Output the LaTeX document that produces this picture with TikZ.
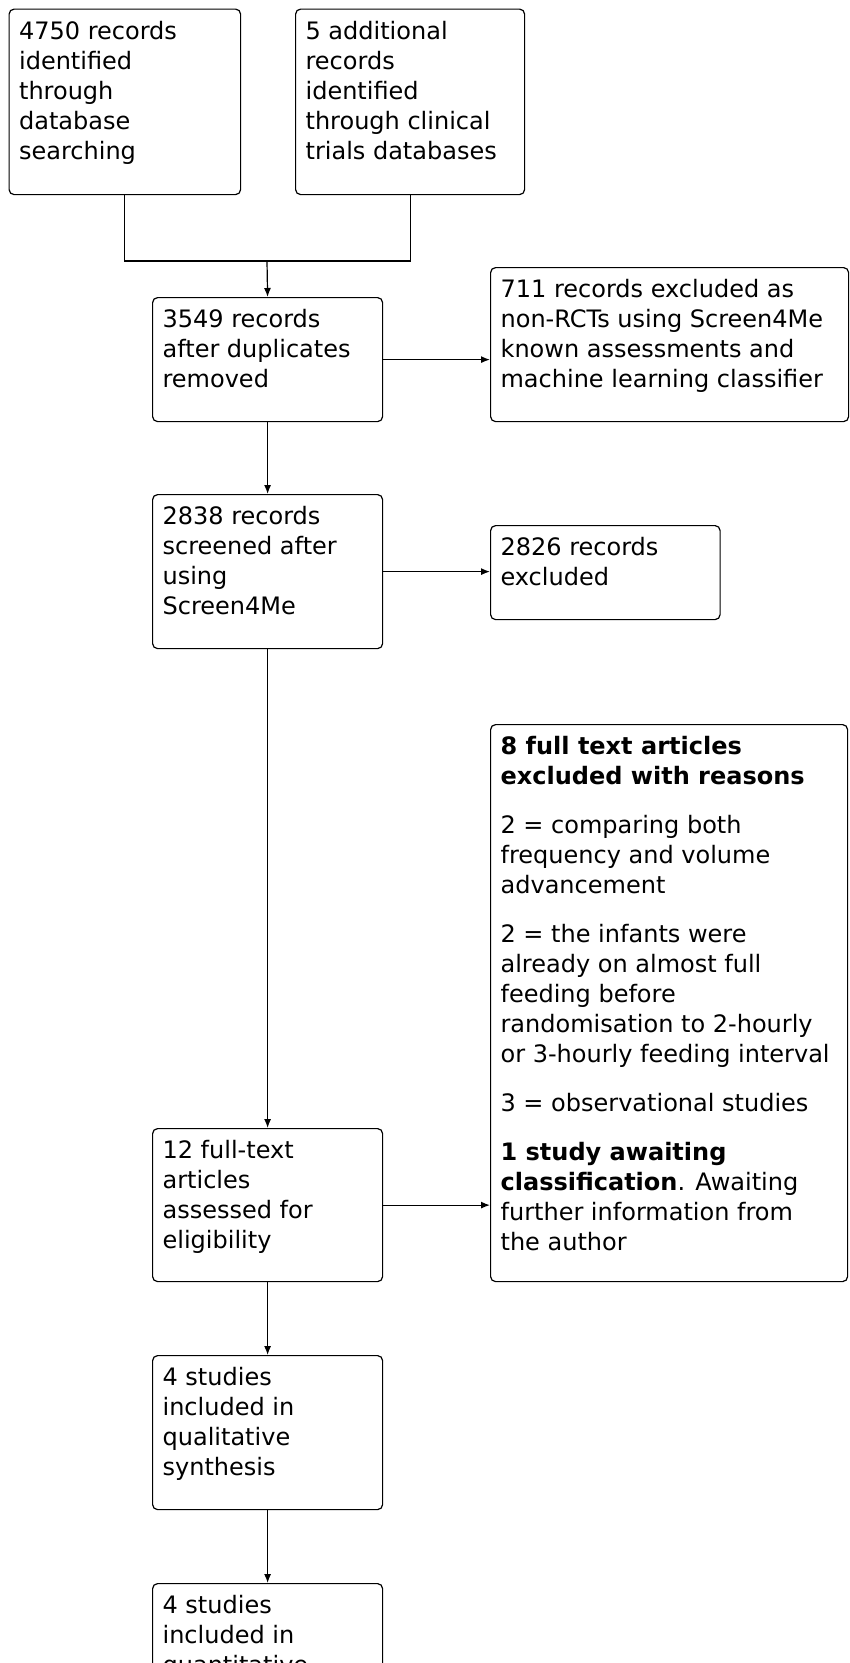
\documentclass[tikz,border=0pt]{standalone}
\usepackage{fontspec}
\setmainfont{DejaVu Sans}
\usetikzlibrary{arrows.meta}
% top aligned text inside a box of fixed size
\newcommand{\boxtxt}[3]{\parbox[c][#2][t]{#1}{\raggedright\vspace*{12pt}#3}}
\newcommand{\reasongap}{\par\vspace{18.8pt}}

\begin{document}
\begin{tikzpicture}[x=1pt, y=-1pt,
  every node/.style={font=\fontsize{24pt}{30pt}\selectfont},
  stage/.style={draw, rounded corners=5pt, anchor=north west, inner xsep=10pt, inner ysep=0pt, line width=1.2pt},
  link/.style={line width=1.2pt},
  flow/.style={line width=1.2pt, -{Latex[length=9pt,width=7pt]}}]
\useasboundingbox (0,0) rectangle (850,1663);
\clip (0,0) rectangle (850,1663);

\node[stage] (ident) at (8.5,8.5) {\boxtxt{211.5pt}{185.5pt}{4750 records\\identified\\through\\database\\searching}};
\node[stage] (extra) at (295,8.5) {\boxtxt{209pt}{185.5pt}{5 additional\\records\\identified\\through clinical\\trials databases}};
\node[stage] (dedup) at (152,297) {\boxtxt{210pt}{124pt}{3549 records\\after duplicates\\removed}};
\node[stage] (nonrct) at (490,267) {\boxtxt{338pt}{154pt}{711 records excluded as\\non-RCTs using Screen4Me\\known assessments and\\machine learning classifier}};
\node[stage] (screen) at (152,494) {\boxtxt{210pt}{154pt}{2838 records\\screened after\\using\\Screen4Me}};
\node[stage] (excl) at (490,525) {\boxtxt{209.5pt}{94pt}{2826 records\\excluded}};
\node[stage] (reasons) at (490,724) {\boxtxt{337pt}{557pt}{\textbf{8 full text articles}\\\textbf{excluded with reasons}\reasongap
2 = comparing both\\frequency and volume\\advancement\reasongap
2 = the infants were\\already on almost full\\feeding before\\randomisation to 2-hourly\\or 3-hourly feeding interval\reasongap
3 = observational studies\reasongap
\textbf{1 study awaiting}\\\textbf{classification}. Awaiting\\further information from\\the author}};
\node[stage] (fulltext) at (152,1128) {\boxtxt{210pt}{153pt}{12 full-text\\articles\\assessed for\\eligibility}};
\node[stage] (qual) at (152,1355) {\boxtxt{210pt}{154pt}{4 studies\\included in\\qualitative\\synthesis}};
\node[stage] (quant) at (152,1583) {\boxtxt{210pt}{154pt}{4 studies\\included in\\quantitative}};

\coordinate (merge) at (267,261);
\draw[link] (ident.south) |- (merge) -| (extra.south);
\draw[flow] (merge) -- (dedup.north);
\draw[flow] (dedup.east) -- (dedup.east -| nonrct.west);
\draw[flow] (dedup.south) -- (screen.north);
\draw[flow] (screen.east) -- (screen.east -| excl.west);
\draw[flow] (screen.south) -- (fulltext.north);
\draw[flow] (fulltext.east) -- (fulltext.east -| reasons.west);
\draw[flow] (fulltext.south) -- (qual.north);
\draw[flow] (qual.south) -- (quant.north);
\end{tikzpicture}
\end{document}
